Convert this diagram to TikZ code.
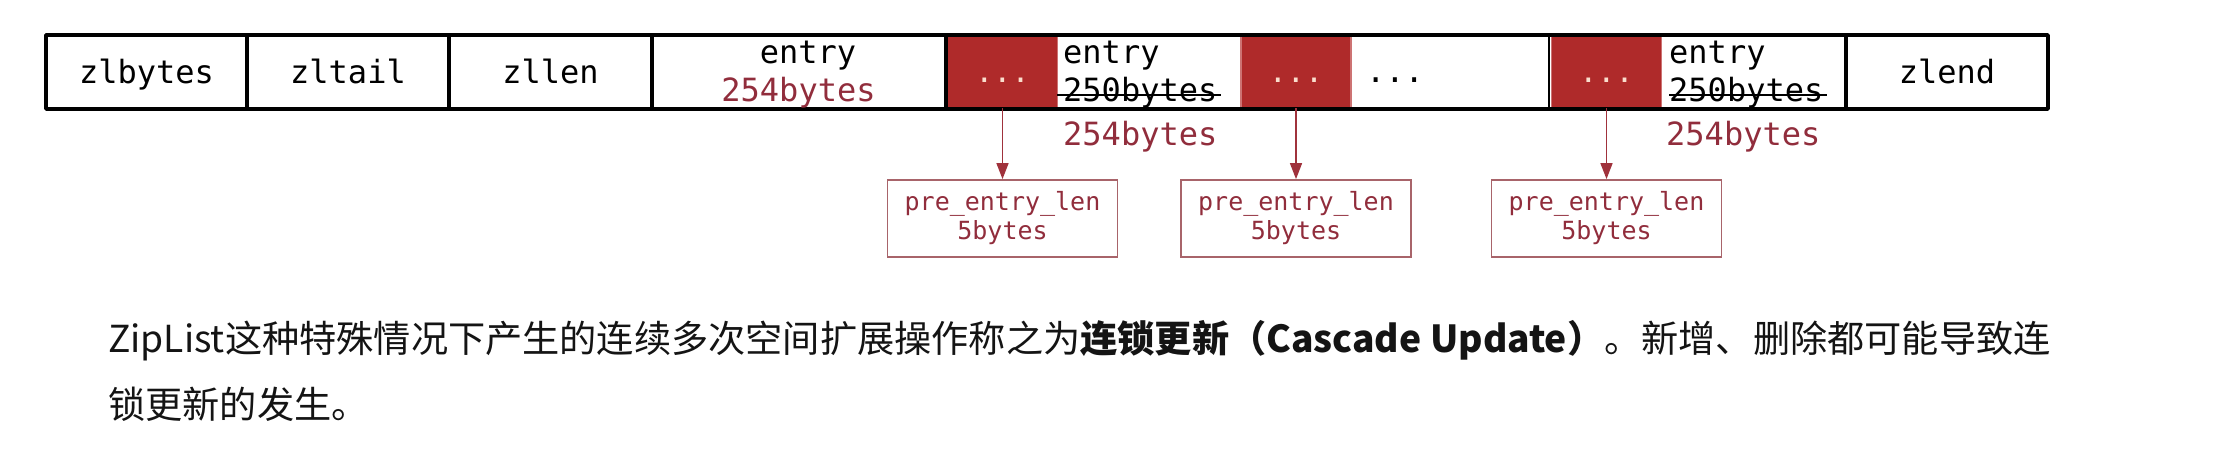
\documentclass[tikz,border=0pt]{standalone}
\usepackage{fontspec}
\setmonofont{DejaVu Sans Mono}
\newfontfamily\cjk{Noto Sans CJK SC}
\usetikzlibrary{arrows.meta}
\definecolor{boxred}{RGB}{175,42,42}
\definecolor{boxredline}{RGB}{205,115,115}
\definecolor{darkmaroon}{RGB}{145,45,60}
\definecolor{noteline}{RGB}{168,100,106}
\definecolor{arrowred}{RGB}{160,50,60}
\definecolor{paledot}{RGB}{250,222,205}
\definecolor{bodytext}{RGB}{20,20,20}
\begin{document}
\begin{tikzpicture}[x=1pt,y=-1pt,
  cellfont/.style={font=\fontsize{32}{38}\selectfont\ttfamily, inner sep=0pt},
  redcell/.style={fill=boxred, draw=boxredline, line width=1.2pt, minimum width=110pt,
    minimum height=70.4pt, inner sep=0pt, text=paledot, text height=20pt, text depth=0pt,
    font=\fontsize{30}{36}\selectfont\ttfamily},
  notebox/.style={draw=noteline, line width=1.8pt, minimum width=230pt, minimum height=77pt,
    inner sep=0pt, align=center, text=darkmaroon,
    font=\fontsize{25}{29}\selectfont\ttfamily},
  pointer/.style={draw=arrowred, line width=1.5pt, -{Triangle[width=12pt,length=16pt]}},
  strike/.style={line width=2pt},
  bodyfont/.style={font=\cjk\fontsize{37.2}{40}\selectfont, text=bodytext, inner sep=0pt, anchor=base west}
]
\fill[white] (0,0) rectangle (2222,450);
\useasboundingbox (0,0) rectangle (2222,450);

% red "..." cells
\node[redcell] (rb1) at (1002.5,72) {...};
\node[redcell] (rb2) at (1296,72) {...};
\node[redcell] (rb3) at (1606.5,72) {...};

% outer frame and dividers
\draw[line width=3.4pt, line join=round] (46,35) rectangle (2048,109);
\foreach \xx in {247,449,652,946,1846}
  \draw[line width=3.4pt] (\xx,35) -- (\xx,109);
\draw[line width=2pt] (1549,35) -- (1549,109);

% cell labels
\node[cellfont, anchor=base] (zlbytes) at (146.5,83) {zlbytes};
\node[cellfont, anchor=base] (zltail) at (348,83) {zltail};
\node[cellfont, anchor=base] (zllen) at (550.5,83) {zllen};
\node[cellfont, anchor=base] (zlend) at (1947,83) {zlend};

\node[cellfont, anchor=base] (e1a) at (808,63) {entry};
\node[cellfont, anchor=base, text=darkmaroon] (e1b) at (798.5,101) {254bytes};

\node[cellfont, anchor=base west] (e2a) at (1063,63) {entry};
\node[cellfont, anchor=base west] (e2b) at (1063,101) {250bytes};
\draw[strike] ([xshift=-6pt,yshift=6pt]e2b.base west) -- ([xshift=3pt,yshift=6pt]e2b.base east);
\node[cellfont, anchor=base west, text=darkmaroon] (e2c) at (1063,145) {254bytes};

\node[cellfont, anchor=base] (gap) at (1395,82) {...};

\node[cellfont, anchor=base west] (e3a) at (1669,63) {entry};
\node[cellfont, anchor=base west] (e3b) at (1669,101) {250bytes};
\draw[strike] ([yshift=6pt]e3b.base west) -- ([xshift=3pt,yshift=6pt]e3b.base east);
\node[cellfont, anchor=base west, text=darkmaroon] (e3c) at (1666,145) {254bytes};

% pre_entry_len boxes
\node[notebox] (p1) at (1002.5,218.5) {pre\_entry\_len\\5bytes};
\node[notebox] (p2) at (1296,218.5) {pre\_entry\_len\\5bytes};
\node[notebox] (p3) at (1606.5,218.5) {pre\_entry\_len\\5bytes};

\draw[pointer] (rb1.south) -- (p1.north);
\draw[pointer] (rb2.south) -- (p2.north);
\draw[pointer] (rb3.south) -- (p3.north);

% paragraph
\node[bodyfont] (line1) at (108,352) {ZipList这种特殊情况下产生的连续多次空间扩展操作称之为\textbf{连锁更新（Cascade Update）}。新增、删除都可能导致连};
\node[bodyfont] (line2) at (108,418) {锁更新的发生。};
\end{tikzpicture}
\end{document}
